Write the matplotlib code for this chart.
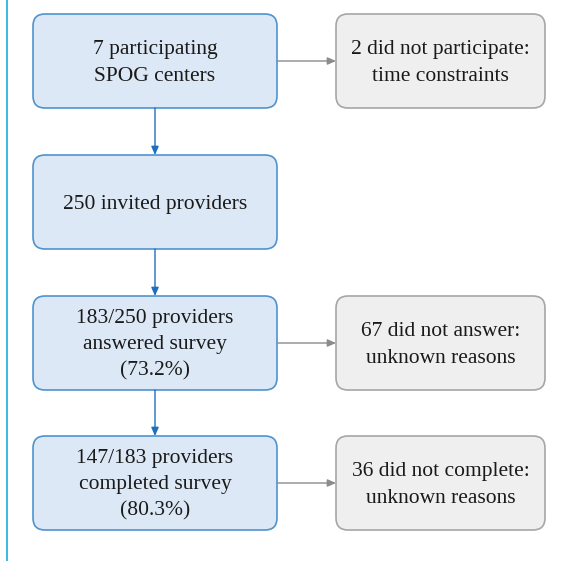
import matplotlib.pyplot as plt
from matplotlib.patches import FancyBboxPatch

# flow steps (main column) and exclusions (side column)
main_labels = ['7 participating\nSPOG centers',
               '250 invited providers',
               '183/250 providers\nanswered survey\n(73.2%)',
               '147/183 providers\ncompleted survey\n(80.3%)']
side_labels = ['2 did not participate:\ntime constraints',
               None,
               '67 did not answer:\nunknown reasons',
               '36 did not complete:\nunknown reasons']

# layout in pixels
box_top = [14, 155, 296, 436]
box_h = 94
main_x0, main_x1 = 33, 277
side_x0, side_x1 = 336, 545
rad = 12

fig = plt.figure(figsize=(5.62, 5.61), dpi=100)
ax = fig.add_axes([0, 0, 1, 1])
ax.set_xlim(0, 562)
ax.set_ylim(561, 0)
ax.axis('off')

# thin line on the left edge
ax.plot([7, 7], [0, 561], color='#2bb3e0', lw=1.3)

font = dict(family='Liberation Serif', fontsize=15.5, color='#1a1a1a',
            ha='center', va='center', linespacing=1.52)

def box(x0, x1, y0, fc, ec, text):
    p = FancyBboxPatch((x0 + rad, y0 + rad), x1 - x0 - 2 * rad, box_h - 2 * rad,
                       boxstyle='round,pad=%d' % rad, fc=fc, ec=ec, lw=1.2)
    ax.add_patch(p)
    ax.text((x0 + x1) / 2, y0 + box_h / 2 + 2, text, **font)

arrow = '-|>,head_length=0.5,head_width=0.22'
for i, lab in enumerate(main_labels):
    box(main_x0, main_x1, box_top[i], '#dce8f5', '#4f93cf', lab)
    if side_labels[i]:
        box(side_x0, side_x1, box_top[i], '#efefef', '#a6a6a6', side_labels[i])
        yc = box_top[i] + box_h / 2
        ax.annotate('', xy=(side_x0, yc), xytext=(main_x1, yc),
                    arrowprops=dict(arrowstyle=arrow, color='#8c8c8c', lw=1.0,
                                    shrinkA=0, shrinkB=0))
    if i < len(main_labels) - 1:
        xc = (main_x0 + main_x1) / 2
        ax.annotate('', xy=(xc, box_top[i + 1]), xytext=(xc, box_top[i] + box_h),
                    arrowprops=dict(arrowstyle=arrow, color='#1f6fbf', lw=1.0,
                                    shrinkA=0, shrinkB=0))

fig.savefig('out.png', dpi=100)
